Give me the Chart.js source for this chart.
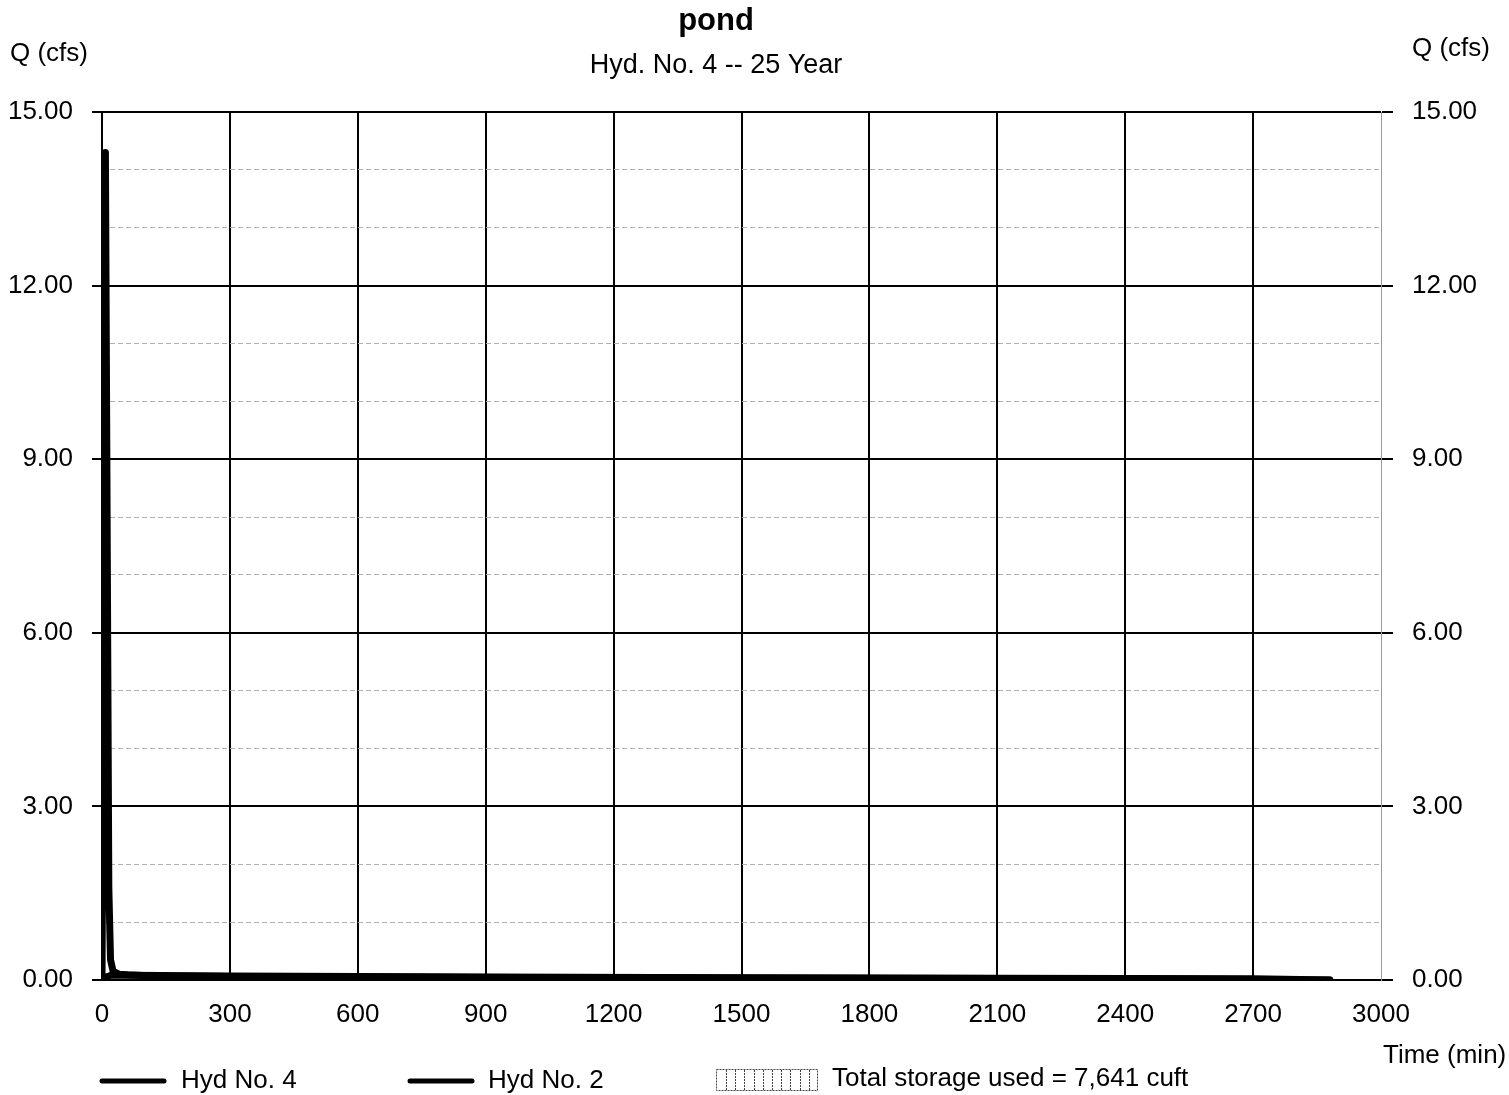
<!DOCTYPE html>
<html>
<head>
<meta charset="utf-8">
<title>pond</title>
<script src="https://cdn.jsdelivr.net/npm/chart.js@4.4.1/dist/chart.umd.min.js"></script>
<style>
  html, body { margin: 0; padding: 0; background: #fff; }
  #c { display: block; }
</style>
</head>
<body>
<canvas id="c" width="1509" height="1095"></canvas>
<script>
// ---- data ----
const chartTitle = "pond";
const chartSubtitle = "Hyd. No. 4 -- 25 Year";
const yAxisCaption = "Q (cfs)";
const xAxisCaption = "Time (min)";

const xTicks = [0, 300, 600, 900, 1200, 1500, 1800, 2100, 2400, 2700, 3000];
const yTicks = [0, 3, 6, 9, 12, 15];

// Hyd No. 2 (inflow) – sharp spike near t = 0
const hyd2Time = [0, 4, 8, 12, 16, 20, 26, 40, 60, 120, 300, 600, 1200, 1800, 2400, 2880];
const hyd2Q    = [0, 6.5, 14.3, 8.0, 1.6, 0.35, 0.15, 0.1, 0.09, 0.07, 0.06, 0.05, 0.04, 0.03, 0.02, 0.0];

// Hyd No. 4 (pond outflow) – very low, long flat tail
const hyd4Time = [0, 10, 20, 60, 300, 900, 1500, 2100, 2700, 2880];
const hyd4Q    = [0, 0.05, 0.08, 0.08, 0.07, 0.05, 0.04, 0.03, 0.02, 0.0];

const legendLabels = ["Hyd No. 4", "Hyd No. 2"];
const storageUsed = 7641; // cuft

// ---- build datasets ----
function pts(t, q) { return t.map((v, i) => ({ x: v, y: q[i] })); }

const FONT = "'Liberation Sans', Arial, Helvetica, sans-serif";

const overlay = {
  id: 'overlay',
  afterDraw(chart) {
    const ctx = chart.ctx;
    ctx.save();
    ctx.fillStyle = '#000';
    ctx.textBaseline = 'middle';
    // title
    ctx.textAlign = 'center';
    ctx.font = "bold 31px " + FONT;
    ctx.fillText(chartTitle, 716, 21);
    ctx.font = "27px " + FONT;
    ctx.fillText(chartSubtitle, 716, 66);
    // axis captions
    ctx.font = "26px " + FONT;
    ctx.textAlign = 'left';
    ctx.fillText(yAxisCaption, 10, 54);
    ctx.fillText(yAxisCaption, 1412, 49);
    ctx.fillText(xAxisCaption, 1383, 1056);
    // legend
    const ly = 1081;
    ctx.strokeStyle = '#000';
    ctx.lineWidth = 5;
    ctx.lineCap = 'round';
    ctx.beginPath(); ctx.moveTo(102, ly); ctx.lineTo(164, ly); ctx.stroke();
    ctx.fillText(chart.data.datasets[0].label, 181, ly);
    ctx.beginPath(); ctx.moveTo(410, ly); ctx.lineTo(472, ly); ctx.stroke();
    ctx.fillText(chart.data.datasets[1].label, 488, ly);
    // storage pattern box
    ctx.lineCap = 'butt';
    ctx.lineWidth = 1;
    ctx.strokeStyle = '#444';
    ctx.setLineDash([2, 1]);
    ctx.strokeRect(716.5, 1069.5, 101, 21);
    for (let x = 726; x < 818; x += 9.2) {
      ctx.beginPath(); ctx.moveTo(Math.round(x) + 0.5, 1070); ctx.lineTo(Math.round(x) + 0.5, 1090); ctx.stroke();
    }
    ctx.setLineDash([]);
    ctx.fillStyle = '#000';
    ctx.fillText("Total storage used = " + storageUsed.toLocaleString('en-US') + " cuft", 832, ly - 2);
    ctx.restore();
  }
};

new Chart(document.getElementById('c'), {
  type: 'line',
  data: {
    datasets: [
      {
        label: legendLabels[0],
        data: pts(hyd4Time, hyd4Q),
        borderColor: '#000',
        borderWidth: 7,
        pointRadius: 0,
        tension: 0,
        fill: false,
        borderJoinStyle: 'round',
        borderCapStyle: 'round'
      },
      {
        label: legendLabels[1],
        data: pts(hyd2Time, hyd2Q),
        borderColor: '#000',
        borderWidth: 7,
        pointRadius: 0,
        tension: 0,
        fill: false,
        borderJoinStyle: 'round',
        borderCapStyle: 'round'
      }
    ]
  },
  options: {
    responsive: false,
    animation: false,
    devicePixelRatio: 1,
    layout: { padding: { top: 112, left: 0, right: 0, bottom: 0 } },
    plugins: {
      legend: { display: false },
      title: { display: false },
      tooltip: { enabled: false }
    },
    scales: {
      x: {
        type: 'linear',
        min: 0, max: 3000,
        afterBuildTicks(s) { s.ticks = xTicks.map(v => ({ value: v })); },
        afterFit(s) { s.height = 115; },
        ticks: {
          font: { family: FONT, size: 26 },
          color: '#000',
          padding: 19,
          maxRotation: 0,
          autoSkip: false,
          callback: v => String(v)
        },
        grid: {
          drawTicks: false,
          color: c => (c.tick && c.tick.value === 3000) ? '#9a9a9a' : '#000',
          lineWidth: c => (c.tick && c.tick.value === 3000) ? 1 : 2
        },
        border: { display: true, color: '#000', width: 2 }
      },
      yMinor: {
        type: 'linear',
        position: 'left',
        min: 0, max: 15,
        weight: -1,
        afterFit(s) { s.width = 0; },
        ticks: { display: false, stepSize: 1 },
        grid: {
          drawTicks: false,
          color: c => (c.tick && c.tick.value % 3 === 0) ? 'rgba(0,0,0,0)' : '#b0b0b0',
          lineWidth: 1
        },
        border: { display: false, dash: [5, 3] }
      },
      y: {
        type: 'linear',
        position: 'left',
        min: 0, max: 15,
        weight: 1,
        afterBuildTicks(s) { s.ticks = yTicks.map(v => ({ value: v })); },
        afterFit(s) { s.width = 102; },
        ticks: {
          font: { family: FONT, size: 26 },
          color: '#000',
          padding: 19,
          callback: v => Number(v).toFixed(2)
        },
        grid: { color: '#000', lineWidth: 2, tickLength: 10, tickColor: '#000' },
        border: { display: true, color: '#000', width: 2 }
      },
      yRight: {
        type: 'linear',
        position: 'right',
        min: 0, max: 15,
        afterBuildTicks(s) { s.ticks = yTicks.map(v => ({ value: v })); },
        afterFit(s) { s.width = 128; },
        ticks: {
          font: { family: FONT, size: 26 },
          color: '#000',
          padding: 19,
          callback: v => Number(v).toFixed(2)
        },
        grid: { drawOnChartArea: false, tickLength: 12, tickColor: '#000', lineWidth: 2 },
        border: { display: true, color: '#9a9a9a', width: 1 }
      }
    }
  },
  plugins: [overlay]
});
</script>
</body>
</html>
